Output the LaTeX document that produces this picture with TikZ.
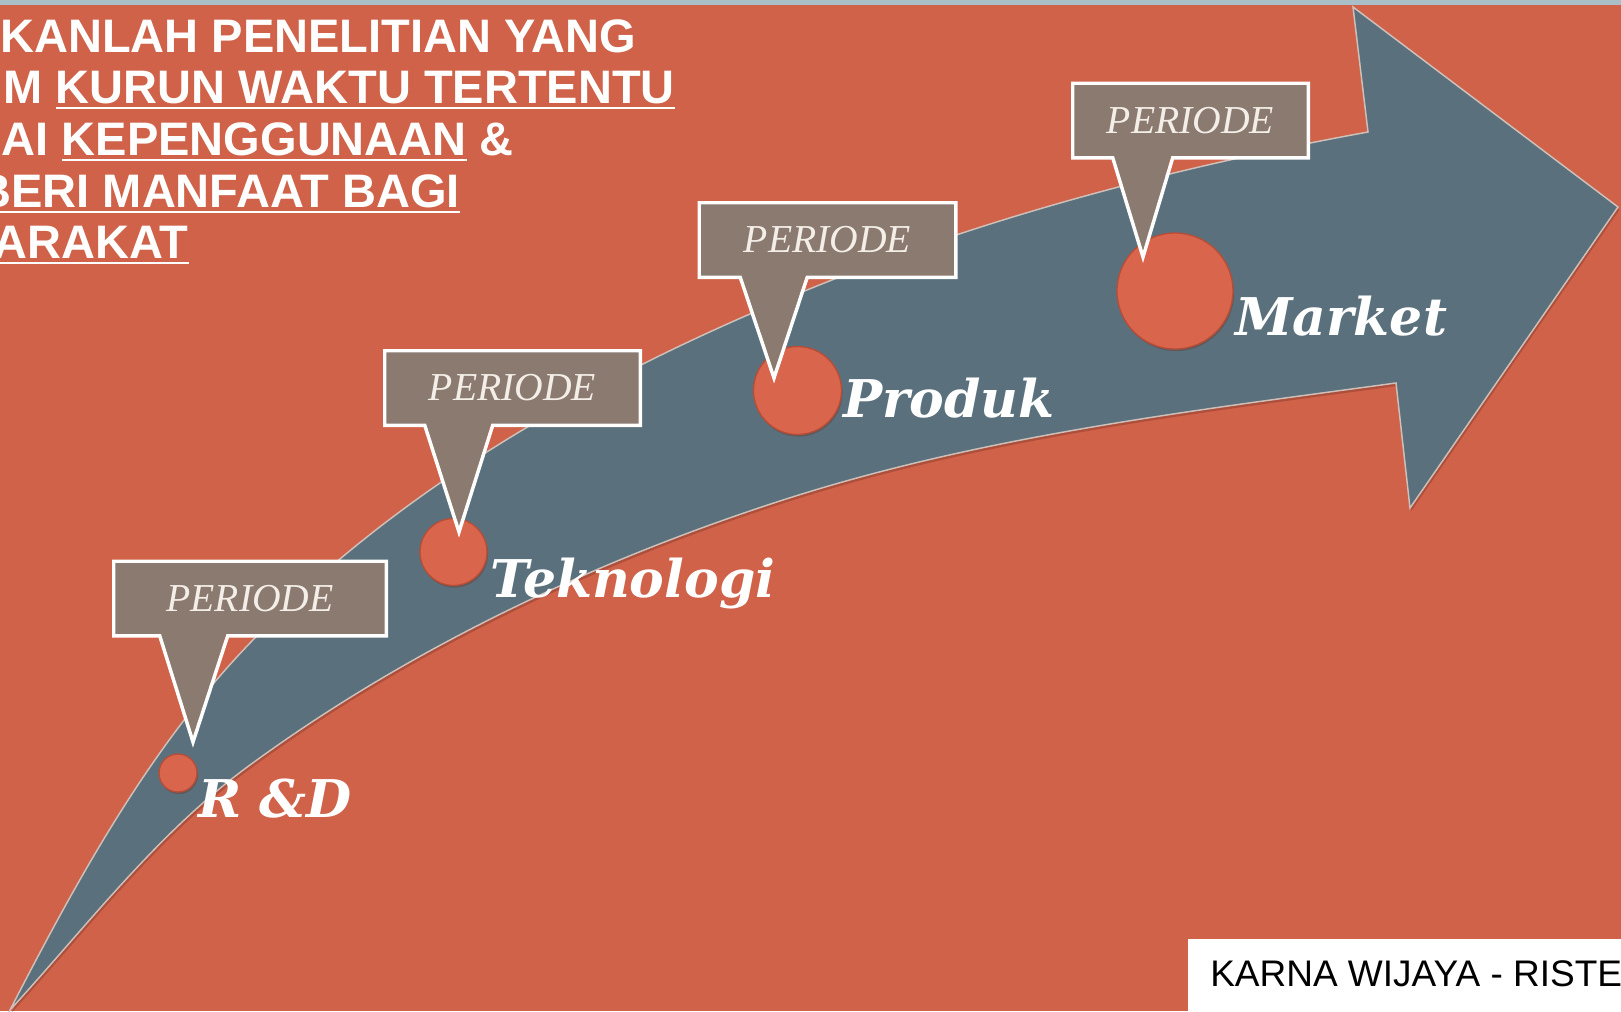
\documentclass[tikz,border=0pt]{standalone}
\usepackage{fontspec}
\setmainfont{Liberation Serif}
\newfontfamily\titlefont{Liberation Sans}
\newfontfamily\stagefont{DejaVu Serif}
\usetikzlibrary{calc}

\definecolor{bgred}{RGB}{208,98,74}
\definecolor{stripblue}{RGB}{169,190,199}
\definecolor{arrowslate}{RGB}{90,113,125}
\definecolor{arrowrim}{RGB}{206,192,185}
\definecolor{boxtaupe}{RGB}{139,122,111}
\definecolor{dotred}{RGB}{217,101,77}
\definecolor{dotrim}{RGB}{184,77,55}
\definecolor{periodetext}{RGB}{243,238,232}
\definecolor{shadowc}{RGB}{110,45,30}

\newsavebox{\ulbox}
\newcommand{\undl}[1]{\sbox{\ulbox}{#1}\rlap{\rule[-4.75pt]{\wd\ulbox}{2pt}}\usebox{\ulbox}}

\begin{document}
\begin{tikzpicture}[x=0.75pt,y=0.75pt,yscale=-1,xscale=1,
    periode/.style={fill=boxtaupe, minimum width={#1*0.75pt}, minimum height=55.5pt, inner sep=0pt, text=periodetext, font=\fontsize{29.7pt}{30pt}\selectfont\itshape},
    calloutline/.style={draw=white, line width=2.6pt},
    dot/.style={circle, inner sep=0pt, fill=dotred, draw=dotrim, line width=1pt, minimum size={#1*1.5pt}, preaction={fill=shadowc, fill opacity=0.35, transform canvas={xshift=0.8pt, yshift=-1.6pt}}},
    stage/.style={anchor=base west, inner sep=0pt, text=white, font={\stagefont\fontsize{39pt}{40pt}\selectfont\bfseries\itshape}},
    title/.style={anchor=base east, inner sep=0pt, text=white, font={\titlefont\fontsize{35.25pt}{36pt}\selectfont\bfseries}},
    arrowbody/.style={fill=arrowslate, draw=arrowrim, line width=1.1pt, preaction={fill=shadowc, fill opacity=0.35, transform canvas={xshift=1pt, yshift=-2.2pt}}}]
    \useasboundingbox (0,0) rectangle (1621,1011);
    \clip (0,0) rectangle (1621,1011);

    %Shape: Background
    \fill[bgred] (0,0) rectangle (1621,1011);
    \fill[stripblue] (0,0) rectangle (1621,5);

    %Shape: Curved Arrow
    \draw[arrowbody] (10,1010) .. controls (77,880) and (149,748) .. (250,643)
        .. controls (409,477) and (623,362) .. (837,278)
        .. controls (1008,211) and (1187,165) .. (1368,132)
        -- (1353,7) -- (1618,207) -- (1410,508) -- (1396,383)
        .. controls (1190,411) and (981,436) .. (783,500)
        .. controls (594,561) and (410,648) .. (250,765)
        .. controls (158,832) and (87,926) .. (10,1010) -- cycle;

    %Shape: Circles
    \node[dot=19] (rd) at (178,773) {};
    \node[dot=33.5] (tek) at (453.5,552) {};
    \node[dot=44] (prod) at (797.5,390.5) {};
    \node[dot=58] (mkt) at (1175,291) {};

    %Shape: Callout R&D
    \node[periode=272] (p1) at (250,598.5) {PERIODE};
    \fill[boxtaupe] ($(p1.south west)+(44,-2)$) -- ($(rd)+(15,-31)$) -- ($(p1.south west)+(112,-2)$) -- cycle;
    \draw[calloutline] ($(p1.south west)+(46,0)$) -- (p1.south west) -- (p1.north west) -- (p1.north east) -- (p1.south east) -- ($(p1.south west)+(114,0)$) -- ($(rd)+(15,-31)$) -- cycle;
    %Shape: Callout Teknologi
    \node[periode=255] (p2) at (512.5,388) {PERIODE};
    \fill[boxtaupe] ($(p2.south west)+(38,-2)$) -- ($(tek)+(5.5,-20)$) -- ($(p2.south west)+(106,-2)$) -- cycle;
    \draw[calloutline] ($(p2.south west)+(40,0)$) -- (p2.south west) -- (p2.north west) -- (p2.north east) -- (p2.south east) -- ($(p2.south west)+(108,0)$) -- ($(tek)+(5.5,-20)$) -- cycle;
    %Shape: Callout Produk
    \node[periode=256] (p3) at (827.5,240) {PERIODE};
    \fill[boxtaupe] ($(p3.south west)+(39,-2)$) -- ($(prod)+(-23.5,-12.5)$) -- ($(p3.south west)+(106,-2)$) -- cycle;
    \draw[calloutline] ($(p3.south west)+(41,0)$) -- (p3.south west) -- (p3.north west) -- (p3.north east) -- (p3.south east) -- ($(p3.south west)+(108,0)$) -- ($(prod)+(-23.5,-12.5)$) -- cycle;
    %Shape: Callout Market
    \node[periode=235] (p4) at (1190.5,120.5) {PERIODE};
    \fill[boxtaupe] ($(p4.south west)+(38,-2)$) -- ($(mkt)+(-32,-34)$) -- ($(p4.south west)+(98,-2)$) -- cycle;
    \draw[calloutline] ($(p4.south west)+(40,0)$) -- (p4.south west) -- (p4.north west) -- (p4.north east) -- (p4.south east) -- ($(p4.south west)+(100,0)$) -- ($(mkt)+(-32,-34)$) -- cycle;

    % Text Node
    \node[stage] (lrd) at (198,817) {R \&D};
    % Text Node
    \node[stage] (ltek) at (490,597) {Teknologi};
    % Text Node
    \node[stage] (lprod) at (843,417) {Produk};
    % Text Node
    \node[stage] (lmkt) at (1235,335) {Market};

    % Text Node
    \node[title] (t1) at (636,52) {KANLAH PENELITIAN YANG};
    % Text Node
    \node[title] (t2) at (675,103) {M \undl{KURUN WAKTU TERTENTU}};
    % Text Node
    \node[title] (t3) at (514,155) {AI \undl{KEPENGGUNAAN} \&};
    % Text Node
    \node[title] (t4) at (460,207) {\undl{BERI MANFAAT BAGI}};
    % Text Node
    \node[title] (t5) at (189,258) {\undl{ARAKAT}};

    %Shape: Footer
    \fill[white] (1188,939) rectangle (1621,1011);
    % Text Node
    \node[anchor=base west, inner sep=0pt, font={\titlefont\fontsize{27.75pt}{28pt}\selectfont}] (foot) at (1210,986) {KARNA WIJAYA - RISTE};
\end{tikzpicture}
\end{document}
